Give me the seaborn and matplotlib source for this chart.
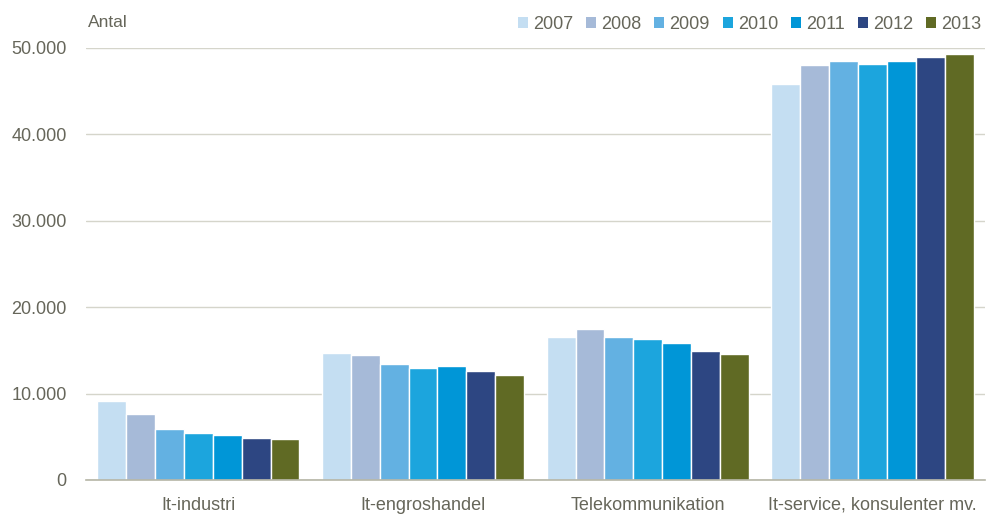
import numpy as np
import pandas as pd
import seaborn as sns
import matplotlib.pyplot as plt
from matplotlib.ticker import FuncFormatter, MultipleLocator
from matplotlib.patches import Patch

categories = ["It-industri", "It-engroshandel", "Telekommunikation", "It-service, konsulenter mv."]
years = ["2007", "2008", "2009", "2010", "2011", "2012", "2013"]

v2007 = [9150, 14700, 16550, 45800]
v2008 = [7600, 14470, 17480, 48030]
v2009 = [5870, 13430, 16550, 48460]
v2010 = [5440, 12960, 16320, 48150]
v2011 = [5200, 13200, 15860, 48490]
v2012 = [4860, 12620, 14930, 48960]
v2013 = [4750, 12190, 14580, 49270]

colors = ["#C4DEF2", "#A6BAD8", "#63B1E2", "#1CA5DD", "#0096D7", "#2D4682", "#606A24"]

series = [v2007, v2008, v2009, v2010, v2011, v2012, v2013]
rows = []
for yr, vals in zip(years, series):
    for cat, v in zip(categories, vals):
        rows.append({"Kategori": cat, "År": yr, "Antal": v})
df = pd.DataFrame(rows)

sns.set_style("white")
plt.rcParams['font.family'] = ['Liberation Sans', 'DejaVu Sans']
txt = "#66665A"

fig = plt.figure(figsize=(9.92, 5.16), dpi=100)
ax = fig.add_axes([0.0867, 0.0698, 0.906, 0.8373])

sns.barplot(data=df, x="Kategori", y="Antal", hue="År", palette=colors,
            width=0.9, gap=0, edgecolor="white", linewidth=1.0,
            saturation=1, legend=False, ax=ax)

ax.set_ylim(0, 50000)
ax.set_xlim(-0.5, 3.5)
ax.yaxis.set_major_locator(MultipleLocator(10000))
ax.yaxis.set_major_formatter(FuncFormatter(lambda v, p: f"{int(v):,}".replace(",", ".")))
ax.grid(axis="y", color="#D5D5CB", linewidth=1)
ax.set_axisbelow(True)
for s in ["left", "right", "top"]:
    ax.spines[s].set_visible(False)
ax.spines["bottom"].set_color("#B5B5A5")
ax.spines["bottom"].set_linewidth(1.2)
ax.tick_params(axis="both", length=0, labelsize=13, colors=txt)
ax.tick_params(axis="y", pad=14)
ax.tick_params(axis="x", pad=12)
ax.set_xlabel("")
ax.set_ylabel("")

fig.text(0.089, 0.957, "Antal", fontsize=12.5, color=txt, ha="left", va="center")

handles = [Patch(facecolor=c, edgecolor="none") for c in colors]
leg = fig.legend(handles, years, loc="center right", bbox_to_anchor=(1.0, 0.953), ncol=7,
                 frameon=False, fontsize=13, handlelength=0.55, handleheight=0.55,
                 handletextpad=0.3, columnspacing=0.7, borderaxespad=0.2)
for t in leg.get_texts():
    t.set_color(txt)

fig.savefig("out.png", dpi=100)
